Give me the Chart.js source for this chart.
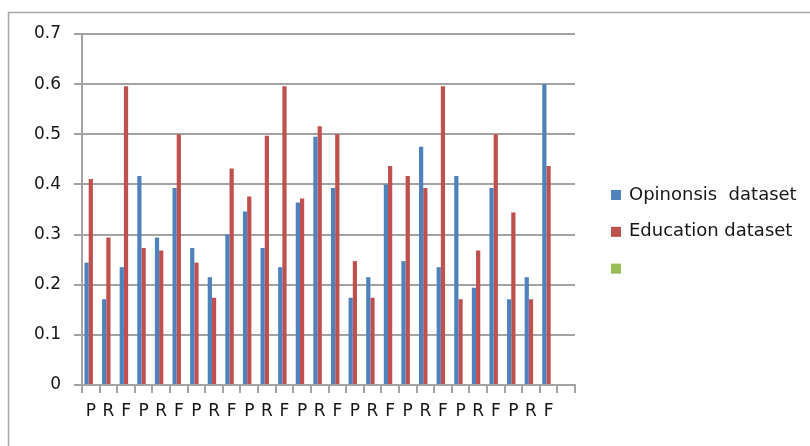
<!DOCTYPE html>
<html>
<head>
<meta charset="utf-8">
<script src="https://cdn.jsdelivr.net/npm/chart.js@4"></script>
<style>
  html, body { margin: 0; padding: 0; background: #ffffff; }
  #wrap { width: 810px; height: 446px; }
</style>
</head>
<body>
<div id="wrap"><canvas id="c" width="810" height="446"></canvas></div>
<script>
// Category labels: precision / recall / F-measure for each run, plus one trailing empty slot
const categories = ['P','R','F','P','R','F','P','R','F','P','R','F','P','R','F',
                    'P','R','F','P','R','F','P','R','F','P','R','F',''];

const seriesNames = ['Opinonsis  dataset', 'Education dataset', ''];
const seriesColors = ['#4f81bd', '#c0504d', '#9bbb59'];

const opinosisValues = [0.244, 0.171, 0.235, 0.417, 0.294, 0.393, 0.273, 0.215, 0.300,
                        0.346, 0.273, 0.235, 0.364, 0.495, 0.393, 0.174, 0.215, 0.400,
                        0.247, 0.475, 0.235, 0.417, 0.194, 0.393, 0.171, 0.215, 0.600, null];
const educationValues = [0.411, 0.294, 0.596, 0.273, 0.268, 0.500, 0.244, 0.174, 0.432,
                         0.376, 0.497, 0.596, 0.372, 0.516, 0.500, 0.247, 0.174, 0.437,
                         0.417, 0.393, 0.596, 0.171, 0.268, 0.500, 0.344, 0.171, 0.437, null];
const thirdValues = categories.map(() => null);

const yTicks = [0, 0.1, 0.2, 0.3, 0.4, 0.5, 0.6, 0.7];

const FONT = "'DejaVu Sans', 'Open Sans', sans-serif";
const TEXT = '#161616';
const LINE = '#a3a3a3';

// Light frame around the whole chart object
const framePlugin = {
  id: 'frame',
  beforeDraw(chart) {
    const ctx = chart.ctx;
    ctx.save();
    ctx.fillStyle = '#ffffff';
    ctx.fillRect(0, 0, chart.width, chart.height);
    ctx.strokeStyle = '#a6a6a6';
    ctx.lineWidth = 1.5;
    ctx.strokeRect(8.5, 12.5, chart.width + 20, chart.height + 20);
    ctx.restore();
  }
};

// Legend drawn at the right, one row per series
const sideLegend = {
  id: 'sideLegend',
  afterDraw(chart) {
    const ctx = chart.ctx;
    ctx.save();
    ctx.font = '18px ' + FONT;
    ctx.textBaseline = 'middle';
    ctx.textAlign = 'left';
    const x0 = 611, y0 = 195, step = 36.8, box = 10;
    chart.data.datasets.forEach((ds, i) => {
      const cy = y0 + i * step;
      ctx.fillStyle = ds.backgroundColor;
      ctx.fillRect(x0, cy - box / 2, box, box);
      ctx.fillStyle = TEXT;
      ctx.fillText(ds.label, x0 + 18, cy);
    });
    ctx.restore();
  }
};

new Chart(document.getElementById('c'), {
  type: 'bar',
  data: {
    labels: categories,
    datasets: [
      { label: seriesNames[0], data: opinosisValues, backgroundColor: seriesColors[0] },
      { label: seriesNames[1], data: educationValues, backgroundColor: seriesColors[1] },
      { label: seriesNames[2], data: thirdValues, backgroundColor: seriesColors[2] }
    ]
  },
  options: {
    responsive: false,
    animation: false,
    devicePixelRatio: 1,
    datasets: { bar: { categoryPercentage: 0.72, barPercentage: 1.0 } },
    layout: { padding: { left: 0, top: 34, right: 235, bottom: 0 } },
    plugins: { legend: { display: false }, tooltip: { enabled: false } },
    scales: {
      x: {
        offset: true,
        grid: { drawOnChartArea: false, drawTicks: true, tickLength: 8, color: LINE, lineWidth: 2, offset: true },
        border: { display: true, color: LINE, width: 2 },
        ticks: { autoSkip: false, maxRotation: 0, minRotation: 0, padding: 8, color: TEXT, font: { family: FONT, size: 17 } },
        afterFit(scale) { scale.height = 61; }
      },
      y: {
        min: 0,
        max: 0.7,
        afterBuildTicks(scale) { scale.ticks = yTicks.map(v => ({ value: v })); },
        grid: { color: LINE, lineWidth: 2, drawTicks: true, tickLength: 8 },
        border: { display: true, color: LINE, width: 2 },
        ticks: {
          padding: 13,
          color: TEXT,
          font: { family: FONT, size: 17 },
          callback: v => (v === 0 ? '0' : v.toFixed(1))
        },
        afterFit(scale) { scale.width = 82; }
      }
    }
  },
  plugins: [framePlugin, sideLegend]
});
</script>
</body>
</html>
